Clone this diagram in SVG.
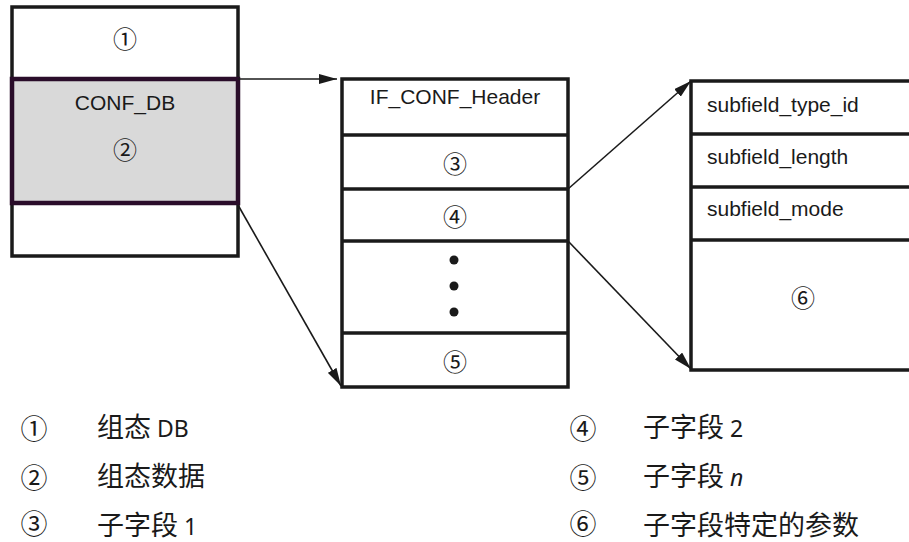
<svg xmlns="http://www.w3.org/2000/svg" width="909" height="542" viewBox="0 0 909 542">
<style>
.box{fill:#fff;stroke:#1a1a1a;stroke-width:3.5}
.div{stroke:#1a1a1a;stroke-width:3.5}
.lbl{font-family:"Liberation Sans",Arial,sans-serif;font-size:21px;fill:#1a1a1a}
.num{font-family:"Noto Sans CJK SC",sans-serif;font-size:24px;fill:#1a1a1a;text-anchor:middle;dominant-baseline:central}
.lnum{font-family:"Noto Sans CJK SC",sans-serif;font-size:27px;fill:#1a1a1a;text-anchor:middle;dominant-baseline:central}
.ltxt{font-family:"Noto Sans CJK SC",sans-serif;font-size:27px;fill:#1a1a1a}
.lat{font-family:"Noto Sans","Noto Sans CJK SC",sans-serif;font-size:23px}
.con{stroke:#1a1a1a;stroke-width:1.6;fill:none;marker-end:url(#ah)}
</style>
<defs>
<marker id="ah" viewBox="0 0 18 10" refX="18" refY="5" markerWidth="18" markerHeight="10" markerUnits="userSpaceOnUse" orient="auto">
<path d="M0,0 L18,5 L0,10 Z" fill="#1a1a1a"/>
</marker>
</defs>
<rect width="909" height="542" fill="#fff"/>
<g id="conf-db">
<rect class="box" x="12" y="7" width="226" height="249"/>
<rect x="12" y="79" width="226" height="124" fill="#d9d9d9" stroke="#2a0d2a" stroke-width="4.5"/>
<text class="num" x="125" y="37">①</text>
<text class="lbl" x="125" y="110" text-anchor="middle">CONF_DB</text>
<text class="num" x="125" y="148">②</text>
</g>
<g id="if-conf">
<rect class="box" x="342" y="79" width="226" height="308"/>
<line class="div" x1="342" y1="135" x2="568" y2="135"/>
<line class="div" x1="342" y1="189" x2="568" y2="189"/>
<line class="div" x1="342" y1="241" x2="568" y2="241"/>
<line class="div" x1="342" y1="333" x2="568" y2="333"/>
<text class="lbl" x="455" y="104" text-anchor="middle">IF_CONF_Header</text>
<text class="num" x="455" y="162">③</text>
<text class="num" x="455" y="215">④</text>
<circle cx="454" cy="260" r="4.5" fill="#1a1a1a"/>
<circle cx="454" cy="286" r="4.5" fill="#1a1a1a"/>
<circle cx="454" cy="312" r="4.5" fill="#1a1a1a"/>
<text class="num" x="455" y="360">⑤</text>
</g>
<g id="subfield">
<rect class="box" x="691" y="81" width="230" height="289"/>
<line class="div" x1="691" y1="134" x2="912" y2="134"/>
<line class="div" x1="691" y1="187" x2="912" y2="187"/>
<line class="div" x1="691" y1="240" x2="912" y2="240"/>
<text class="lbl" x="707" y="112">subfield_type_id</text>
<text class="lbl" x="707" y="164">subfield_length</text>
<text class="lbl" x="707" y="216">subfield_mode</text>
<text class="num" x="803" y="296">⑥</text>
</g>
<g id="connectors">
<line class="con" x1="238" y1="79" x2="337" y2="79"/>
<line class="con" x1="238" y1="205" x2="341" y2="386"/>
<line class="con" x1="568" y1="189" x2="691" y2="81"/>
<line class="con" x1="568" y1="241" x2="691" y2="369"/>
</g>
<g id="legend">
<text class="lnum" x="34" y="427">①</text>
<text class="ltxt" x="97" y="437">组态<tspan class="lat"> DB</tspan></text>
<text class="lnum" x="34" y="476">②</text>
<text class="ltxt" x="97" y="486">组态数据</text>
<text class="lnum" x="34" y="522">③</text>
<text class="ltxt" x="97" y="535">子字段<tspan class="lat"> 1</tspan></text>
<text class="lnum" x="583" y="427">④</text>
<text class="ltxt" x="643" y="437">子字段<tspan class="lat"> 2</tspan></text>
<text class="lnum" x="583" y="476">⑤</text>
<text class="ltxt" x="643" y="486">子字段<tspan class="lat" font-style="italic"> n</tspan></text>
<text class="lnum" x="583" y="522">⑥</text>
<text class="ltxt" x="643" y="535">子字段特定的参数</text>
</g>
</svg>
